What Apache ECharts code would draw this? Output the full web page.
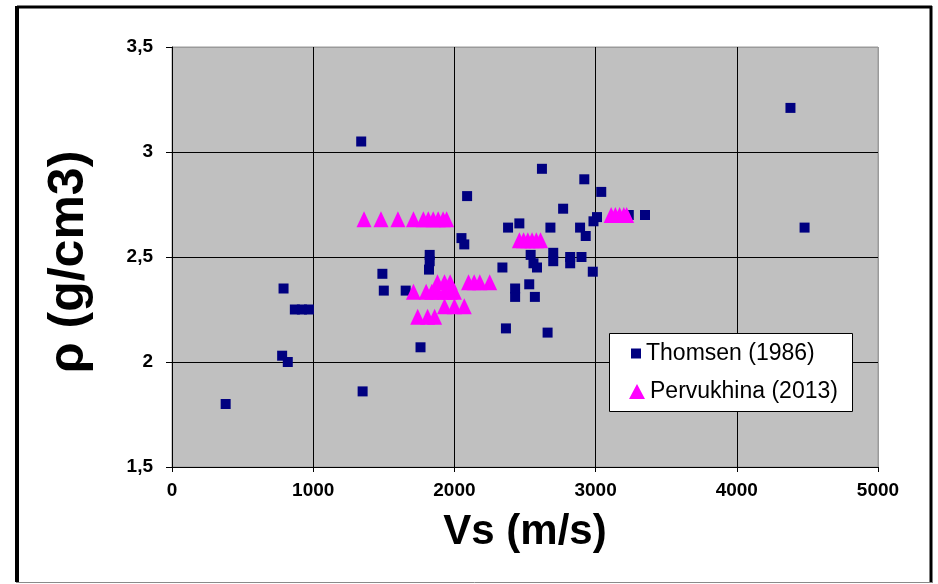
<!DOCTYPE html>
<html>
<head>
<meta charset="utf-8">
<script src="https://cdn.jsdelivr.net/npm/echarts@6/dist/echarts.min.js"></script>
<style>
html,body{margin:0;padding:0;background:#fff;}
#chart{width:938px;height:584px;}
</style>
</head>
<body>
<div id="chart"></div>
<script>
// Data
const xTicks = ['0', '1000', '2000', '3000', '4000', '5000'];
const yTicks = ['1,5', '2', '2,5', '3', '3,5'];

const thomsenVs  = [380, 780, 790, 820, 870, 920, 970, 1340, 1350, 1490, 1500, 1655, 1760, 1825, 1825, 1820,
  2050, 2070, 2090, 2340, 2365, 2380, 2430, 2430, 2460, 2530, 2540, 2560, 2585, 2570, 2620, 2660, 2680,
  2700, 2700, 2770, 2820, 2820, 2890, 2900, 2920, 2930, 2980, 2985, 3010, 3040, 3235, 3350, 4380, 4480];
const thomsenRho = [1.80, 2.03, 2.35, 2.00, 2.25, 2.25, 2.25, 3.05, 1.86, 2.42, 2.34, 2.34, 2.07, 2.51, 2.48, 2.44,
  2.59, 2.56, 2.79, 2.45, 2.16, 2.64, 2.35, 2.31, 2.66, 2.37, 2.51, 2.47, 2.45, 2.31, 2.92, 2.14, 2.64,
  2.52, 2.48, 2.73, 2.50, 2.47, 2.64, 2.50, 2.87, 2.60, 2.43, 2.67, 2.69, 2.81, 2.70, 2.70, 3.21, 2.64];

const pervVs  = [1360, 1480, 1600, 1710, 1780, 1815, 1850, 1885, 1920, 1945,
  1880, 1930, 1970, 2100, 2140, 2180, 2250,
  1710, 1800, 1840, 1880, 1930, 1970, 2000,
  1930, 2000, 2070,
  1740, 1810, 1860,
  2460, 2490, 2520, 2550, 2580, 2610,
  3110, 3140, 3170, 3200, 3220];
const pervRho = [2.68, 2.68, 2.68, 2.68, 2.68, 2.68, 2.68, 2.68, 2.68, 2.68,
  2.38, 2.38, 2.38, 2.38, 2.38, 2.38, 2.38,
  2.335, 2.335, 2.335, 2.335, 2.335, 2.335, 2.335,
  2.265, 2.265, 2.265,
  2.215, 2.215, 2.215,
  2.58, 2.58, 2.58, 2.58, 2.58, 2.58,
  2.70, 2.70, 2.70, 2.70, 2.70];

const seriesNames = ['Thomsen (1986)', 'Pervukhina (2013)'];

const thomsenData = thomsenVs.map((v, i) => [v, thomsenRho[i]]);
const pervData = pervVs.map((v, i) => [v, pervRho[i]]);

const FONT = '"Liberation Sans", Arial, sans-serif';

const chart = echarts.init(document.getElementById('chart'), null, {renderer: 'canvas'});
chart.setOption({
  animation: false,
  backgroundColor: '#ffffff',
  grid: {
    left: 172, top: 47, right: 60, bottom: 117,
    show: true, backgroundColor: '#C0C0C0', borderColor: '#9a9a9a', borderWidth: 1,
    containLabel: false
  },
  xAxis: {
    type: 'value', min: 0, max: 5000, interval: 1000,
    name: 'Vs (m/s)', nameLocation: 'middle', nameGap: 44,
    nameTextStyle: {fontFamily: FONT, fontWeight: 'bold', fontSize: 42, color: '#000'},
    axisLine: {show: true, onZero: false, lineStyle: {color: '#000', width: 1}},
    axisTick: {show: true, length: 5, lineStyle: {color: '#000'}},
    axisLabel: {
      fontFamily: FONT, fontWeight: 'bold', fontSize: 19, color: '#000', margin: 14,
      formatter: (v) => xTicks[Math.round(v / 1000)]
    },
    splitLine: {show: true, lineStyle: {color: ['#000', '#000', '#000', '#000', '#000', '#9a9a9a'], width: 1}}
  },
  yAxis: {
    type: 'value', min: 1.5, max: 3.5, interval: 0.5,
    name: 'ρ (g/cm3)', nameLocation: 'middle', nameGap: 78, nameRotate: 90,
    nameTextStyle: {fontFamily: FONT, fontWeight: 'bold', fontSize: 50, color: '#000', padding: [0, 10, 0, 0]},
    axisLine: {show: true, onZero: false, lineStyle: {color: '#000', width: 1}},
    axisTick: {show: true, length: 6, lineStyle: {color: '#000'}},
    axisLabel: {
      fontFamily: FONT, fontWeight: 'bold', fontSize: 19, color: '#000', margin: 19,
      formatter: (v) => yTicks[Math.round((v - 1.5) / 0.5)]
    },
    splitLine: {show: true, lineStyle: {color: ['#000', '#000', '#000', '#000', '#9a9a9a'], width: 1}}
  },
  legend: [
    {
      z: 20,
      data: [{name: seriesNames[0], icon: 'rect'}],
      left: 631, top: 342, padding: 0, itemWidth: 10, itemHeight: 10,
      textStyle: {fontFamily: FONT, fontSize: 23, color: '#000'}
    },
    {
      z: 20,
      data: [{name: seriesNames[1], icon: 'triangle'}],
      left: 629, top: 380, padding: 0, itemWidth: 16, itemHeight: 15,
      textStyle: {fontFamily: FONT, fontSize: 23, color: '#000'}
    }
  ],
  graphic: [
    {type: 'rect', z: 5, shape: {x: 609.5, y: 333.5, width: 243, height: 78},
     style: {fill: '#fff', stroke: '#000', lineWidth: 1}},
    {type: 'line', shape: {x1: 17, y1: 7, x2: 932, y2: 7}, style: {stroke: '#000', lineWidth: 3}},
    {type: 'line', shape: {x1: 17, y1: 6, x2: 17, y2: 582}, style: {stroke: '#000', lineWidth: 4}},
    {type: 'line', shape: {x1: 931, y1: 6, x2: 931, y2: 582}, style: {stroke: '#000', lineWidth: 3}},
    {type: 'line', shape: {x1: 16, y1: 582.5, x2: 933, y2: 582.5}, style: {stroke: '#8a8a8a', lineWidth: 1}}
  ],
  series: [
    {
      name: seriesNames[0], type: 'scatter', symbol: 'rect', symbolSize: 10,
      itemStyle: {color: '#000080', opacity: 1},
      data: thomsenData, z: 3
    },
    {
      name: seriesNames[1], type: 'scatter', symbol: 'triangle', symbolSize: [15, 16],
      itemStyle: {color: '#FF00FF', opacity: 1},
      data: pervData, z: 4
    }
  ]
});
</script>
</body>
</html>
